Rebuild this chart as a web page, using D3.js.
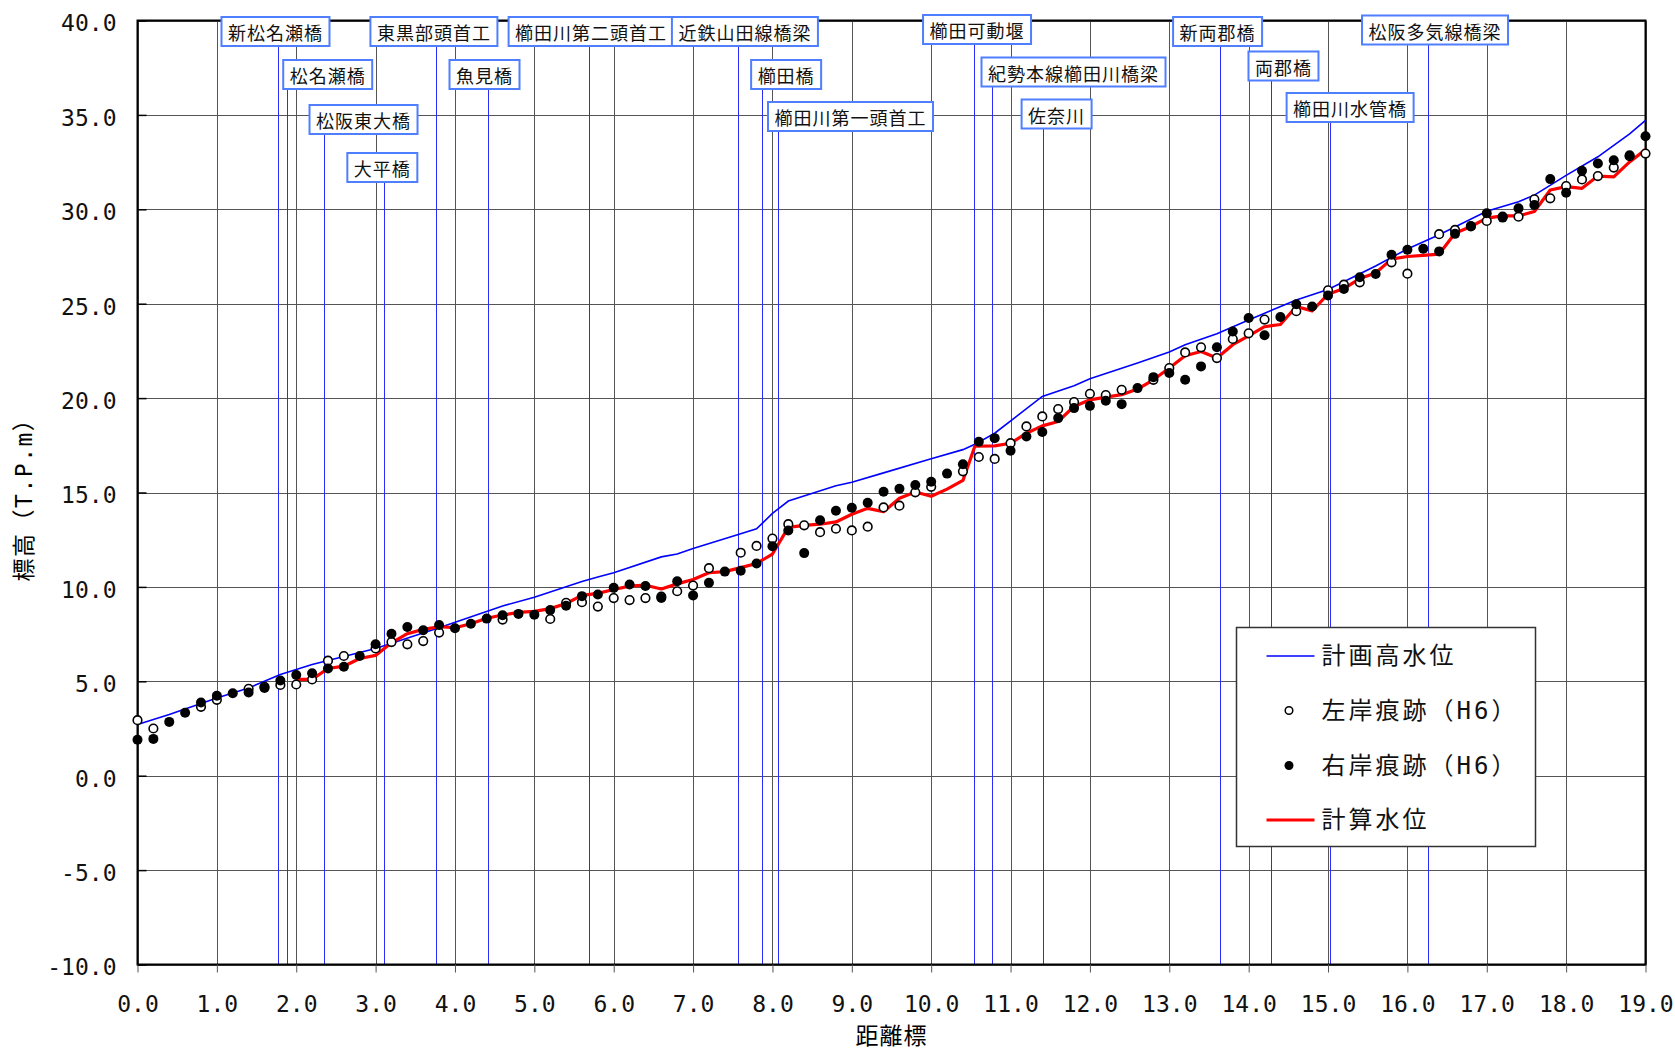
<!DOCTYPE html>
<html>
<head>
<meta charset="utf-8">
<script src="https://cdn.jsdelivr.net/npm/d3@7"></script>
<style>
  body { margin: 0; background: #fff; }
  svg { display: block; }
</style>
</head>
<body>
<svg class="profile" width="1675" height="1053"></svg>
<script>
// 櫛田川 縦断図 (H6 痕跡水位)

// 計画高水位 [距離標 km, 標高 m]
var planLevel = [[0.0, 2.71], [0.4, 3.24], [1.0, 4.12], [1.4, 4.65], [1.8, 5.36], [2.2, 5.89], [3.0, 6.74],
  [3.8, 7.84], [4.6, 8.99], [5.0, 9.45], [5.6, 10.29], [5.8, 10.52], [6.0, 10.75], [6.6, 11.59], [6.8, 11.74],
  [7.0, 12.04], [7.6, 12.81], [7.8, 13.08], [8.0, 13.89], [8.2, 14.55], [8.8, 15.36], [9.0, 15.54], [9.4, 16.04],
  [10.0, 16.79], [10.4, 17.27], [10.55, 17.55], [10.8, 18.14], [11.4, 20.09], [11.8, 20.65], [12.0, 21.02],
  [12.6, 21.86], [13.0, 22.44], [13.2, 22.83], [13.6, 23.41], [14.0, 24.14], [14.6, 25.2], [15.0, 25.75],
  [15.6, 27.0], [16.0, 27.9], [16.4, 28.65], [17.0, 29.9], [17.4, 30.4], [17.6, 30.75], [18.0, 31.8],
  [18.4, 32.78], [18.8, 34.0], [19.0, 34.71]];

// 計算水位
var calcLevel = [[2.0, 5.10], [2.2, 5.10], [2.4, 5.68], [2.6, 5.80], [2.8, 6.21], [3.0, 6.37], [3.2, 7.04],
  [3.4, 7.52], [3.6, 7.75], [3.8, 7.89], [4.0, 7.84], [4.2, 8.05], [4.4, 8.34], [4.6, 8.51], [4.8, 8.65],
  [5.0, 8.70], [5.2, 8.85], [5.4, 9.12], [5.6, 9.55], [5.8, 9.66], [6.0, 9.86], [6.2, 10.04], [6.4, 10.09],
  [6.6, 9.89], [6.8, 10.16], [7.0, 10.39], [7.2, 10.75], [7.4, 10.81], [7.6, 11.02], [7.8, 11.24], [8.0, 11.74],
  [8.2, 13.15], [8.4, 13.26], [8.6, 13.32], [8.8, 13.44], [9.0, 13.85], [9.2, 14.16], [9.4, 13.98], [9.6, 14.70],
  [9.8, 15.03], [10.0, 14.80], [10.2, 15.18], [10.4, 15.64], [10.55, 17.45], [10.8, 17.47], [11.0, 17.61],
  [11.2, 18.14], [11.4, 18.53], [11.6, 18.76], [11.8, 19.56], [12.0, 19.91], [12.2, 20.05], [12.4, 20.18],
  [12.6, 20.48], [12.8, 20.97], [13.0, 21.59], [13.2, 22.24], [13.4, 22.47], [13.6, 22.12], [13.8, 22.83],
  [14.0, 23.30], [14.2, 23.78], [14.4, 23.90], [14.6, 24.85], [14.8, 24.62], [15.0, 25.50], [15.2, 25.80],
  [15.4, 26.33], [15.6, 26.63], [15.8, 27.36], [16.0, 27.50], [16.2, 27.56], [16.4, 27.63], [16.6, 28.73],
  [16.8, 29.09], [17.0, 29.53], [17.2, 29.65], [17.4, 29.65], [17.6, 29.88], [17.8, 31.02], [18.0, 31.20],
  [18.2, 31.11], [18.4, 31.76], [18.6, 31.72], [18.8, 32.51], [19.0, 33.16]];

// 左岸痕跡 (H6)
var leftBank = [[0.0, 2.94], [0.2, 2.50], [0.8, 3.65], [1.0, 4.02], [1.4, 4.60], [1.6, 4.71], [1.8, 4.81],
  [2.0, 4.83], [2.2, 5.10], [2.4, 6.09], [2.6, 6.34], [3.0, 6.74], [3.2, 7.08], [3.4, 6.96], [3.6, 7.13],
  [3.8, 7.58], [4.6, 8.27], [5.2, 8.30], [5.4, 9.16], [5.6, 9.19], [5.8, 8.96], [6.0, 9.41], [6.2, 9.30],
  [6.4, 9.41], [6.6, 9.48], [6.8, 9.77], [7.0, 10.07], [7.2, 10.99], [7.6, 11.81], [7.8, 12.17], [8.0, 12.56],
  [8.2, 13.32], [8.4, 13.26], [8.6, 12.90], [8.8, 13.08], [9.0, 12.99], [9.2, 13.19], [9.4, 14.21], [9.6, 14.30],
  [9.8, 15.01], [10.0, 15.30], [10.4, 16.12], [10.6, 16.88], [10.8, 16.78], [11.0, 17.61], [11.2, 18.50],
  [11.4, 19.03], [11.6, 19.42], [11.8, 19.79], [12.0, 20.23], [12.2, 20.16], [12.4, 20.44], [12.8, 20.97],
  [13.0, 21.59], [13.2, 22.42], [13.4, 22.69], [13.6, 22.12], [13.8, 23.13], [14.0, 23.43], [14.2, 24.16],
  [14.6, 24.60], [15.0, 25.71], [15.2, 26.01], [15.4, 26.13], [15.8, 27.19], [16.0, 26.59], [16.4, 28.68],
  [16.6, 28.91], [16.8, 29.09], [17.0, 29.38], [17.2, 29.61], [17.4, 29.61], [17.6, 30.53], [17.8, 30.58],
  [18.0, 31.23], [18.2, 31.58], [18.4, 31.76], [18.6, 32.21], [18.8, 32.81], [19.0, 32.95]];

// 右岸痕跡 (H6)
var rightBank = [[0.0, 1.90], [0.2, 1.95], [0.4, 2.85], [0.6, 3.33], [0.8, 3.88], [1.0, 4.23], [1.2, 4.37],
  [1.4, 4.41], [1.6, 4.65], [1.8, 5.04], [2.0, 5.33], [2.2, 5.43], [2.4, 5.68], [2.6, 5.77], [2.8, 6.34],
  [3.0, 6.96], [3.2, 7.52], [3.4, 7.88], [3.6, 7.70], [3.8, 7.98], [4.0, 7.81], [4.2, 8.05], [4.4, 8.32],
  [4.6, 8.50], [4.8, 8.57], [5.0, 8.53], [5.2, 8.77], [5.4, 9.00], [5.6, 9.51], [5.8, 9.60], [6.0, 9.95],
  [6.2, 10.13], [6.4, 10.05], [6.6, 9.41], [6.8, 10.30], [7.0, 9.55], [7.2, 10.22], [7.4, 10.81], [7.6, 10.86],
  [7.8, 11.24], [8.0, 12.15], [8.2, 12.99], [8.4, 11.79], [8.6, 13.53], [8.8, 14.03], [9.0, 14.19], [9.2, 14.46],
  [9.4, 15.04], [9.6, 15.20], [9.8, 15.40], [10.0, 15.57], [10.2, 16.00], [10.4, 16.50], [10.6, 17.69],
  [10.8, 17.88], [11.0, 17.21], [11.2, 17.97], [11.4, 18.20], [11.6, 18.94], [11.8, 19.47], [12.0, 19.59],
  [12.2, 19.86], [12.4, 19.68], [12.6, 20.53], [12.8, 21.11], [13.0, 21.33], [13.2, 20.97], [13.4, 21.68],
  [13.6, 22.69], [13.8, 23.53], [14.0, 24.24], [14.2, 23.33], [14.4, 24.30], [14.6, 24.97], [14.8, 24.85],
  [15.0, 25.43], [15.2, 25.78], [15.4, 26.40], [15.6, 26.57], [15.8, 27.59], [16.0, 27.86], [16.2, 27.91],
  [16.4, 27.77], [16.6, 28.70], [16.8, 29.12], [17.0, 29.79], [17.2, 29.56], [17.4, 30.05], [17.6, 30.23],
  [17.8, 31.60], [18.0, 30.88], [18.2, 32.04], [18.4, 32.43], [18.6, 32.60], [18.8, 32.86], [19.0, 33.87]];

// 横断構造物
var bridgeNames = ["新松名瀬橋", "松名瀬橋", "松阪東大橋", "大平橋", "東黒部頭首工", "魚見橋", "櫛田川第二頭首工",
  "近鉄山田線橋梁", "櫛田橋", "櫛田川第一頭首工", "櫛田可動堰", "紀勢本線櫛田川橋梁", "佐奈川", "新両郡橋",
  "両郡橋", "櫛田川水管橋", "松阪多気線橋梁"];
var bridgeKm = [1.77, 1.88, 2.35, 3.11, 3.76, 4.41, 5.69, 7.57, 7.87, 8.07, 10.54, 10.76, 11.41, 13.64, 14.28, 15.02, 16.26];

var legendNames = ["計画高水位", "左岸痕跡（H6）", "右岸痕跡（H6）", "計算水位"];

// label placement (shift of box centre from the line, box top)
var labelShift = [-2.5, 41, 39.5, -2, -2, -3, 2, 6.6, 24, 72.5, 3, 82, 13.5, -2.5, 12.6, 20.5, 7];
var labelTop = [17, 60, 105, 153, 17, 60, 17, 17, 60, 102, 15, 57.5, 99.5, 17, 51.5, 93, 15.5];

var svg = d3.select("svg.profile");
var monoFont = "'DejaVu Sans Mono', 'Noto Sans CJK JP', monospace";
var cjkFont = "'Noto Sans CJK JP', sans-serif";

var x = d3.scaleLinear().domain([0, 19]).range([137.5, 1645.5]);
var y = d3.scaleLinear().domain([-10, 40]).range([964.5, 20.5]);

// grid
var grid = svg.append("g").attr("class", "grid")
    .attr("stroke", "#555").attr("stroke-width", 1).attr("shape-rendering", "crispEdges");

grid.selectAll("line.vgrid")
    .data(x.ticks(19)).enter()
    .append("line")
        .attr("class", "vgrid")
        .attr("x1", function(d) { return Math.round(x(d)) + 0.5; })
        .attr("x2", function(d) { return Math.round(x(d)) + 0.5; })
        .attr("y1", y(40)).attr("y2", y(-10));

grid.selectAll("line.hgrid")
    .data(y.ticks(10)).enter()
    .append("line")
        .attr("class", "hgrid")
        .attr("x1", x(0)).attr("x2", x(19))
        .attr("y1", function(d) { return Math.round(y(d)) + 0.5; })
        .attr("y2", function(d) { return Math.round(y(d)) + 0.5; });

// bridge lines
svg.append("g").selectAll("line")
    .data(bridgeKm).enter()
    .append("line")
        .attr("x1", function(d) { return Math.round(x(d)) + 0.5; })
        .attr("x2", function(d) { return Math.round(x(d)) + 0.5; })
        .attr("y1", function(d, i) { return labelTop[i] + 29; })
        .attr("y2", y(-10))
        .attr("stroke", "#2b2bff")
        .attr("stroke-width", 1)
        .attr("shape-rendering", "crispEdges");

// border
svg.append("rect")
    .attr("x", x(0)).attr("y", y(40))
    .attr("width", x(19) - x(0)).attr("height", y(-10) - y(40))
    .attr("fill", "none").attr("stroke", "#000").attr("stroke-width", 2);

// axes
var xAxis = svg.append("g")
    .attr("transform", "translate(0," + y(-10) + ")")
    .call(d3.axisBottom(x)
        .tickValues(x.ticks(19))
        .tickFormat(function(d) { return d.toFixed(1); })
        .tickSize(8).tickPadding(23));
xAxis.select(".domain").remove();
xAxis.selectAll(".tick line").attr("stroke", "#555");
xAxis.selectAll("text")
    .attr("font-family", monoFont).attr("font-size", 23).attr("fill", "#111");

var yAxis = svg.append("g")
    .attr("transform", "translate(" + x(0) + ",0)")
    .call(d3.axisLeft(y)
        .ticks(10)
        .tickFormat(function(d) { return d.toFixed(1); })
        .tickSize(-9).tickPadding(21));
yAxis.select(".domain").remove();
yAxis.selectAll(".tick line").attr("stroke", "#000").attr("stroke-width", 1.5);
yAxis.selectAll("text")
    .attr("font-family", monoFont).attr("font-size", 23).attr("fill", "#111")
    .attr("dy", "0.45em");

// axis titles
svg.append("text")
    .attr("x", (x(0) + x(19)) / 2).attr("y", 1044)
    .attr("text-anchor", "middle")
    .attr("font-family", cjkFont).attr("font-size", 23).attr("letter-spacing", 1)
    .text("距離標");

svg.append("text")
    .attr("transform", "translate(32,494) rotate(-90)")
    .attr("text-anchor", "middle")
    .attr("font-family", monoFont).attr("font-size", 23).attr("letter-spacing", 1.5)
    .text("標高（T.P.m）");

// water level lines
var line = d3.line()
    .x(function(d) { return x(d[0]); })
    .y(function(d) { return y(d[1]); });

svg.append("path")
    .datum(planLevel)
    .attr("d", line)
    .attr("fill", "none").attr("stroke", "#0000ff").attr("stroke-width", 1.6);

svg.append("path")
    .datum(calcLevel)
    .attr("d", line)
    .attr("fill", "none").attr("stroke", "#ff0000").attr("stroke-width", 3.2)
    .attr("stroke-linejoin", "round");

// flood marks
svg.append("g").selectAll("circle")
    .data(leftBank).enter()
    .append("circle")
        .attr("cx", function(d) { return x(d[0]); })
        .attr("cy", function(d) { return y(d[1]); })
        .attr("r", 4.3)
        .attr("fill", "#fff").attr("stroke", "#000").attr("stroke-width", 1.6);

svg.append("g").selectAll("circle")
    .data(rightBank).enter()
    .append("circle")
        .attr("cx", function(d) { return x(d[0]); })
        .attr("cy", function(d) { return y(d[1]); })
        .attr("r", 5)
        .attr("fill", "#000");

// structure labels
var label = svg.append("g").selectAll("g")
    .data(bridgeNames).enter()
    .append("g");

label.append("rect")
    .attr("y", function(d, i) { return labelTop[i]; })
    .attr("height", 29)
    .attr("fill", "#fff").attr("stroke", "#4f7fff").attr("stroke-width", 2);

label.append("text")
    .attr("y", function(d, i) { return labelTop[i] + 15; })
    .attr("dominant-baseline", "central")
    .attr("text-anchor", "middle")
    .attr("font-family", cjkFont).attr("font-size", 18).attr("letter-spacing", 1)
    .attr("fill", "#111")
    .attr("x", function(d, i) { return x(bridgeKm[i]) + labelShift[i]; })
    .text(function(d) { return d; });

label.each(function(d, i) {
    var g = d3.select(this);
    var w = g.select("text").node().getComputedTextLength() + 13;
    g.select("rect")
        .attr("x", x(bridgeKm[i]) + labelShift[i] - w / 2)
        .attr("width", w);
});

// legend
var legend = svg.append("g").attr("transform", "translate(1236.5,627.5)");
legend.append("rect")
    .attr("width", 299).attr("height", 219)
    .attr("fill", "#fff").attr("stroke", "#333").attr("stroke-width", 1.5);

var legendRow = legend.selectAll("g.row")
    .data(legendNames).enter()
    .append("g")
        .attr("class", "row")
        .attr("transform", function(d, i) { return "translate(0," + [28.5, 83, 138, 192.5][i] + ")"; });

legendRow.append("text")
    .attr("x", 85)
    .attr("dominant-baseline", "central")
    .attr("font-family", monoFont).attr("font-size", 24).attr("letter-spacing", 3)
    .attr("fill", "#111")
    .text(function(d) { return d; });

legendRow.filter(function(d, i) { return i == 0; }).append("line")
    .attr("x1", 30).attr("x2", 78).attr("stroke", "#0000ff").attr("stroke-width", 1.6);
legendRow.filter(function(d, i) { return i == 3; }).append("line")
    .attr("x1", 30).attr("x2", 78).attr("stroke", "#ff0000").attr("stroke-width", 3.2);
legendRow.filter(function(d, i) { return i == 1; }).append("circle")
    .attr("cx", 52.5).attr("r", 3.8)
    .attr("fill", "#fff").attr("stroke", "#000").attr("stroke-width", 1.5);
legendRow.filter(function(d, i) { return i == 2; }).append("circle")
    .attr("cx", 52.5).attr("r", 4.5)
    .attr("fill", "#000");
</script>
</body>
</html>
